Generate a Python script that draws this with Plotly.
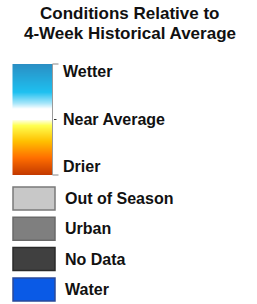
import numpy as np
import plotly.graph_objects as go

# ---- data ----
title_lines = ["Conditions Relative to", "4-Week Historical Average"]
scale_labels = ["Wetter", "Near Average", "Drier"]
scale_values = [1.0, 0.0, -1.0]
gradient_values = list(np.linspace(1.0, -1.0, 112))
gradient_stops = [0.0, 0.15, 0.30, 0.44, 0.50, 0.60, 0.65, 0.75, 1.0]
gradient_colors = ["#c43a00", "#ff6e00", "#ffc000", "#ffff50", "#ffffff",
                   "#ffffff", "#a8e6fa", "#1ec0f0", "#2a8fc4"]
categories = ["Out of Season", "Urban", "No Data", "Water"]
category_colors = ["#c8c8c8", "#7f7f7f", "#404040", "#0a5ae6"]
category_borders = ["#7a7a7a", "#6a6a6a", "#2a2a2a", "#2a4a9a"]

W, H = 257, 304
bar_x0, bar_x1 = 12.5, 52.5
bar_top, bar_bot = 64, 175
box_x0, box_x1 = 13, 55
box_top0, box_h, box_step = 187, 23, 30.3

fig = go.Figure()

n = len(gradient_values)
y_edges = np.linspace(bar_top, bar_bot, n + 1)
fig.add_trace(go.Heatmap(
    z=[[v] for v in gradient_values], x=[bar_x0, bar_x1], y=y_edges,
    colorscale=[[s, c] for s, c in zip(gradient_stops, gradient_colors)],
    zmin=-1, zmax=1, showscale=False, hoverinfo="skip",
    xgap=0, ygap=0,
))

def val_to_y(v):
    return bar_top + (1 - v) / 2 * (bar_bot - bar_top)

shapes = []
annotations = []
font = dict(family="Liberation Sans, Arial, sans-serif", size=16, color="#111111")

# right edge line + ticks
shapes.append(dict(type="line", x0=bar_x1, x1=bar_x1, y0=bar_top, y1=bar_bot,
                   line=dict(color="#9a9a9a", width=1), layer="above"))
for lab, v in zip(scale_labels, scale_values):
    y = val_to_y(v)
    if v == 0:
        shapes.append(dict(type="line", x0=bar_x1 + 1.5, x1=bar_x1 + 4, y0=y, y1=y,
                           line=dict(color="#333333", width=1)))
        ty = y
    else:
        shapes.append(dict(type="line", x0=bar_x1, x1=bar_x1 + 6, y0=y, y1=y,
                           line=dict(color="#888888", width=1)))
        ty = y + 7 if v > 0 else y - 9
    annotations.append(dict(x=61, y=ty, text="<b>%s</b>" % lab, showarrow=False,
                            xanchor="left", yanchor="middle", font=font,
                            xref="x", yref="y"))

for i, (cat, col, bcol) in enumerate(zip(categories, category_colors, category_borders)):
    y0 = box_top0 + i * box_step
    shapes.append(dict(type="rect", x0=box_x0, x1=box_x1, y0=y0, y1=y0 + box_h,
                       fillcolor=col, line=dict(color=bcol, width=1.5)))
    annotations.append(dict(x=63, y=y0 + box_h / 2, text="<b>%s</b>" % cat,
                            showarrow=False, xanchor="left", yanchor="middle",
                            font=font, xref="x", yref="y"))

for i, line in enumerate(title_lines):
    annotations.append(dict(x=W / 2 + 1, y=13 + i * 20, text="<b>%s</b>" % line,
                            showarrow=False, xanchor="center", yanchor="middle",
                            font=dict(family="Liberation Sans, Arial, sans-serif",
                                      size=17, color="#111111"),
                            xref="x", yref="y"))

fig.update_layout(
    width=W, height=H, margin=dict(l=0, r=0, t=0, b=0),
    paper_bgcolor="white", plot_bgcolor="white",
    xaxis=dict(range=[0, W], visible=False, fixedrange=True),
    yaxis=dict(range=[H, 0], visible=False, fixedrange=True),
    shapes=shapes, annotations=annotations, showlegend=False,
)
fig.write_html("out.html", config={"displayModeBar": False},
               post_script="document.body.style.margin='0px';document.body.style.overflow='hidden';")
